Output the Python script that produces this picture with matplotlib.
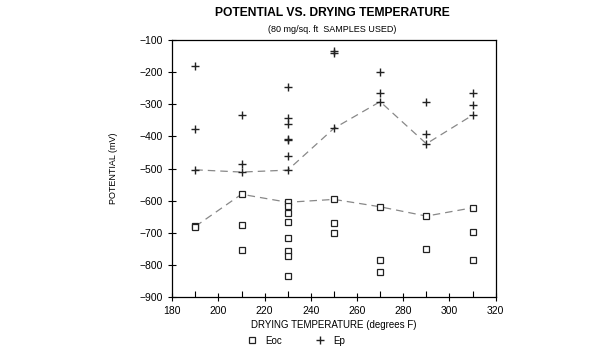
import matplotlib.pyplot as plt
from matplotlib.ticker import MultipleLocator

# Temperaturas (degrees F) e potenciais medidos (mV)
temps = [190, 210, 230, 250, 270, 290, 310]

ep_x = [190, 190, 190,
        210, 210, 210,
        230, 230, 230, 230, 230, 230, 230,
        250, 250, 250,
        270, 270, 270,
        290, 290, 290,
        310, 310, 310]
ep_y = [-181, -377, -504,
        -334, -486, -511,
        -245, -342, -360, -407, -411, -462, -505,
        -135, -140, -375,
        -200, -266, -292,
        -292, -394, -423,
        -266, -303, -334]

eoc_x = [190, 190,
         210, 210, 210,
         230, 230, 230, 230, 230, 230, 230, 230,
         250, 250, 250,
         270, 270, 270,
         290, 290,
         310, 310, 310]
eoc_y = [-678, -683,
         -580, -675, -752,
         -605, -616, -637, -665, -716, -755, -771, -833,
         -596, -669, -702,
         -619, -784, -821,
         -648, -751,
         -622, -696, -786]

# Linhas tracejadas
ep_line = [-504, -511, -505, -375, -292, -423, -334]
eoc_line = [-680, -580, -605, -596, -619, -648, -622]

plt.rcParams['font.family'] = ['Liberation Sans', 'DejaVu Sans']

fig = plt.figure(figsize=(6.15, 3.5), dpi=100)
ax = fig.add_axes([0.28, 0.151, 0.526, 0.735])

ax.plot(temps, ep_line, linestyle=(0, (6, 4)), color="#888888", linewidth=0.9)
ax.plot(temps, eoc_line, linestyle=(0, (6, 4)), color="#888888", linewidth=0.9)

ax.plot(eoc_x, eoc_y, linestyle="none", marker="s", markersize=4.5,
        markerfacecolor="white", markeredgecolor="#222222", markeredgewidth=0.9, label="Eoc")
ax.plot(ep_x, ep_y, linestyle="none", marker="+", markersize=6,
        color="#222222", markeredgewidth=1.0, label="Ep")

ax.set_xlim(180, 320)
ax.set_ylim(-900, -100)
ax.xaxis.set_major_locator(MultipleLocator(20))
ax.xaxis.set_minor_locator(MultipleLocator(10))
ax.yaxis.set_major_locator(MultipleLocator(100))
ax.tick_params(which="major", direction="inout", length=6, labelsize=7.5, width=0.8)
ax.tick_params(which="minor", direction="in", length=4, width=0.8)
for s in ax.spines.values():
    s.set_linewidth(0.9)

ax.set_yticklabels([f"\u2212{abs(int(v))}" for v in ax.get_yticks()])

ax.set_xlabel("DRYING TEMPERATURE (degrees F)", fontsize=7, labelpad=3)
ax.set_ylabel("POTENTIAL (mV)", fontsize=6.5, labelpad=16)

fig.text(0.54, 0.962, "POTENTIAL VS. DRYING TEMPERATURE", ha="center", va="center",
         fontsize=8.7, fontweight="bold")
fig.text(0.54, 0.917, "(80 mg/sq. ft  SAMPLES USED)", ha="center", va="center", fontsize=6.5)

fig.legend(loc="center", bbox_to_anchor=(0.48, 0.027), ncol=2, frameon=False,
           fontsize=7, columnspacing=3.2, handletextpad=0.6, handlelength=1.5,
           borderpad=0.1)

fig.savefig("out.png", dpi=100)
